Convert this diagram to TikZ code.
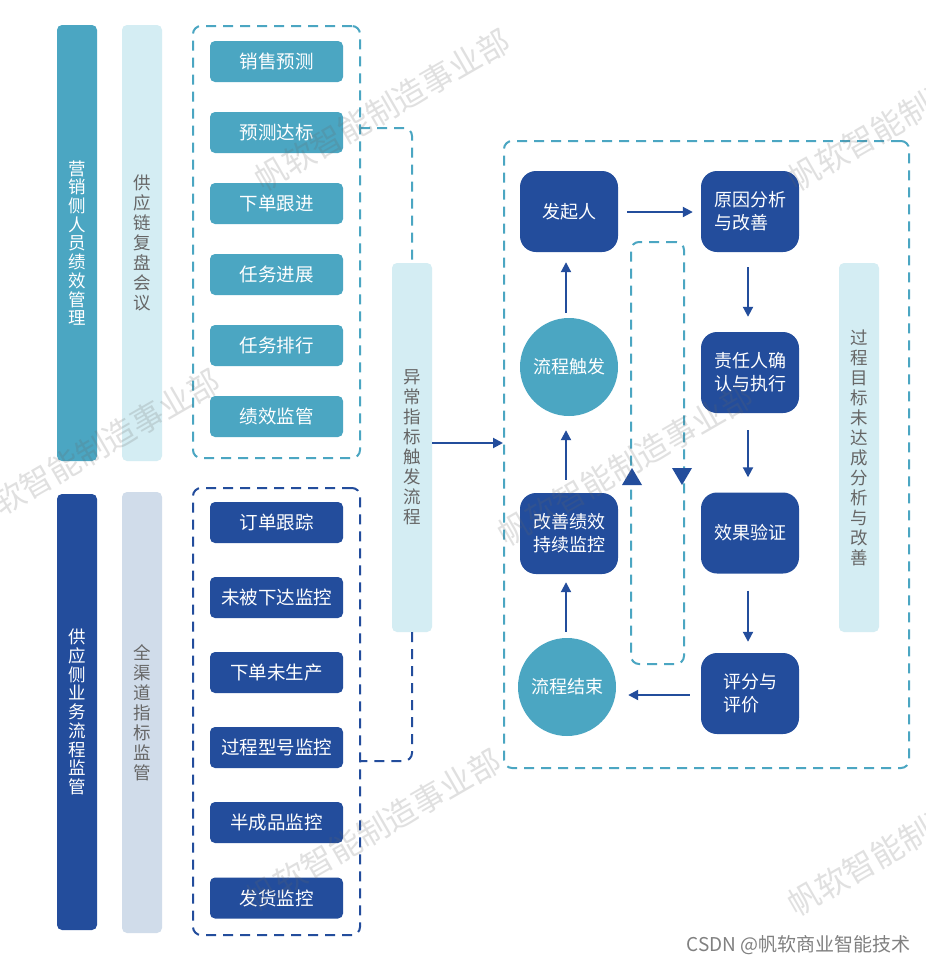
\documentclass[tikz,border=0pt]{standalone}
\usepackage{fontspec}
\setmainfont{Noto Sans CJK SC}
\usetikzlibrary{arrows.meta}
\definecolor{teala}{HTML}{4BA6C2}
\definecolor{navya}{HTML}{234D9C}
\definecolor{ltealb}{HTML}{D4EDF3}
\definecolor{lblueb}{HTML}{D0DCEA}
\definecolor{txtg}{HTML}{666666}
\begin{document}
\begin{tikzpicture}[x=1pt,y=-1pt,
  bar/.style={minimum width=40pt,inner sep=0pt,rounded corners=5pt,align=center},
  tbox/.style={fill=teala,rounded corners=5pt,minimum width=133pt,minimum height=41pt,inner sep=0pt,text=white,font=\fontsize{18.5}{20}\selectfont},
  nbox/.style={tbox,fill=navya},
  fbox/.style={fill=navya,rounded corners=16pt,minimum width=98pt,minimum height=81pt,inner sep=0pt,text=white,align=left,font=\fontsize{18}{23}\selectfont},
  fcirc/.style={circle,fill=teala,minimum size=98pt,inner sep=0pt,text=white,font=\fontsize{18}{20}\selectfont},
  dsh/.style={line width=2pt,dash pattern=on 10pt off 7pt,rounded corners=8pt},
  grp/.style={dsh,draw,inner sep=0pt},
  arr/.style={navya,line width=2pt,-{Triangle[length=10pt,width=10pt]}},
  wm/.style={rotate=30,text=black!60,text opacity=0.2,font=\fontsize{32}{34}\selectfont,inner sep=0pt}
]
\useasboundingbox (0,0) rectangle (926,964);
\fill[white] (0,0) rectangle (926,964);

% left bars
\node[bar,fill=teala,minimum height=436pt,text=white,font=\fontsize{17.5}{18.7}\selectfont] (b1) at (77,243) {营\\销\\侧\\人\\员\\绩\\效\\管\\理};
\node[bar,fill=ltealb,minimum height=436pt,text=txtg,font=\fontsize{17.5}{20}\selectfont] (b2) at (142,243) {供\\应\\链\\复\\盘\\会\\议};
\node[bar,fill=navya,minimum height=436pt,text=white,font=\fontsize{17.5}{18.7}\selectfont] (b3) at (77,712) {供\\应\\侧\\业\\务\\流\\程\\监\\管};
\node[bar,fill=lblueb,minimum height=441pt,text=txtg,font=\fontsize{17.5}{20}\selectfont] (b4) at (142,712.5) {全\\渠\\道\\指\\标\\监\\管};

% groups
\node[grp,draw=teala,minimum width=167pt,minimum height=432pt] (g1) at (276.5,242) {};
\node[grp,draw=navya,minimum width=167pt,minimum height=447pt] (g2) at (276.5,711.5) {};

\node[tbox] (t1) at (276.5,61.5) {销售预测};
\node[tbox] (t2) at (276.5,132.5) {预测达标};
\node[tbox] (t3) at (276.5,203.5) {下单跟进};
\node[tbox] (t4) at (276.5,274.5) {任务进展};
\node[tbox] (t5) at (276.5,345.5) {任务排行};
\node[tbox] (t6) at (276.5,416.5) {绩效监管};

\node[nbox] (n1) at (276.5,522.5) {订单跟踪};
\node[nbox] (n2) at (276.5,597.5) {未被下达监控};
\node[nbox] (n3) at (276.5,672.5) {下单未生产};
\node[nbox] (n4) at (276.5,747.5) {过程型号监控};
\node[nbox] (n5) at (276.5,822.5) {半成品监控};
\node[nbox] (n6) at (276.5,898) {发货监控};

% middle bar
\node[bar,fill=ltealb,minimum height=369pt,text=txtg,font=\fontsize{17.5}{20}\selectfont] (mid) at (412,447.5) {异\\常\\指\\标\\触\\发\\流\\程};
\coordinate (j1) at (360,128);
\coordinate (j2) at (360,761);
\draw[dsh,draw=teala] (j1) -| (mid.north);
\draw[dsh,draw=navya] (mid.south) |- (j2);

% big group
\node[grp,draw=teala,minimum width=405pt,minimum height=627pt] (g3) at (706.5,454.5) {};
\draw[arr] (mid.east |- 0,443) -- (g3.west |- 0,443);

% inner loop
\node[grp,draw=teala,minimum width=53pt,minimum height=422pt] (loop) at (657.5,453) {};
\fill[navya] (622,485) -- (642,485) -- (632,468) -- cycle;
\fill[navya] (672,468) -- (692,468) -- (682,485) -- cycle;

% flow nodes
\node[fbox,align=center] (f1) at (569,211.5) {发起人};
\node[fbox] (f2) at (750,211.5) {原因分析\\与改善};
\node[fcirc] (c1) at (569,367) {流程触发};
\node[fbox] (f3) at (750,372.5) {责任人确\\认与执行};
\node[fbox,align=center] (f4) at (569,533.5) {改善绩效\\持续监控};
\node[fbox,align=center] (f5) at (750,533) {效果验证};
\node[fbox] (f6) at (750,693.5) {评分与\\评价};
\node[fcirc] (c2) at (567,687) {流程结束};

% right bar
\node[bar,fill=ltealb,minimum height=369pt,text=txtg,font=\fontsize{17.5}{20}\selectfont] (rb) at (859,447.5) {过\\程\\目\\标\\未\\达\\成\\分\\析\\与\\改\\善};

% arrows
\draw[arr,shorten <=9pt,shorten >=8pt] (f1.east |- 0,212) -- (f2.west |- 0,212);
\draw[arr,shorten <=15pt,shorten >=15pt] (f2.south -| 748,0) -- (f3.north -| 748,0);
\draw[arr,shorten <=17pt,shorten >=15pt] (f3.south -| 748,0) -- (f5.north -| 748,0);
\draw[arr,shorten <=17pt,shorten >=11pt] (f5.south -| 748,0) -- (f6.north -| 748,0);
\draw[arr,shorten <=11pt,shorten >=12pt] (f6.west |- 0,695) -- (c2.east |- 0,695);
\draw[arr,shorten <=6pt,shorten >=8pt] (c2.north -| 566,0) -- (f4.south -| 566,0);
\draw[arr,shorten <=13pt,shorten >=14pt] (f4.north -| 566,0) -- (c1.south -| 566,0);
\draw[arr,shorten <=5pt,shorten >=10pt] (c1.north -| 566,0) -- (f1.south -| 566,0);

% watermarks
\node[wm] (w1) at (382,110) {帆软智能制造事业部};
\node[wm] (w2) at (915,110) {帆软智能制造事业部};
\node[wm] (w3) at (92,450) {帆软智能制造事业部};
\node[wm] (w4) at (625,465) {帆软智能制造事业部};
\node[wm] (w5) at (373,830) {帆软智能制造事业部};
\node[wm] (w6) at (915,835) {帆软智能制造事业部};

\node[anchor=east,text=black!50,font=\fontsize{19}{21}\selectfont,inner sep=0pt] (csdn) at (911,945) {CSDN @帆软商业智能技术};
\end{tikzpicture}
\end{document}
